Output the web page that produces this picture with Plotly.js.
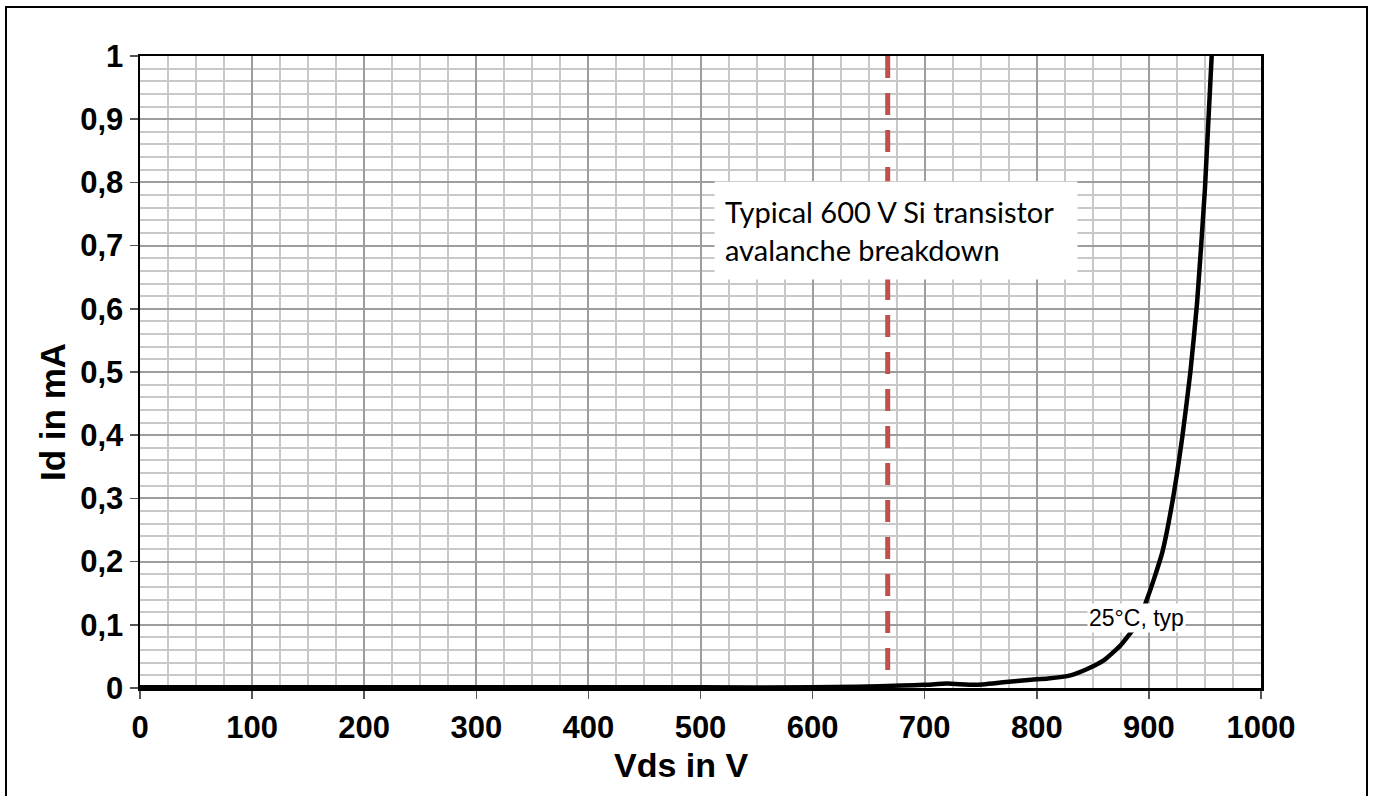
<!DOCTYPE html>
<html>
<head>
<meta charset="utf-8">
<script src="https://cdn.plot.ly/plotly-3.0.1.min.js"></script>
<style>
  html, body { margin: 0; padding: 0; background: #fff; }
  #chart { width: 1373px; height: 796px; position: absolute; left: 0; top: 0; }
  #frame { position: absolute; left: 5px; top: 6px; width: 1363px; height: 800px;
           border: 2px solid #000; box-sizing: border-box; pointer-events: none; }
</style>
</head>
<body>
<div id="chart"></div>
<div id="frame"></div>
<script>
// Drain current vs. drain-source voltage (25°C, typ)
const vdsVolts = [0, 100, 200, 300, 400, 500, 600, 640, 680, 700, 720, 745, 770, 795, 810, 830, 845, 860, 875, 890, 898, 905, 912, 921, 930, 937, 943, 950, 956];
const idMilliamps = [0.001, 0.001, 0.001, 0.001, 0.001, 0.001, 0.001, 0.002, 0.004, 0.005, 0.007, 0.005, 0.009, 0.013, 0.015, 0.020, 0.030, 0.044, 0.068, 0.103, 0.139, 0.175, 0.215, 0.295, 0.400, 0.500, 0.610, 0.790, 1.000];
const breakdownVoltage = 667;   // typical 600 V Si transistor avalanche breakdown
const xRange = [0, 1000];
const yRange = [0, 1];

const boldFont = { family: 'Liberation Sans, Arial, sans-serif', size: 31, color: '#000', weight: 'bold' };

const trace = {
  x: vdsVolts,
  y: idMilliamps,
  type: 'scatter',
  mode: 'lines',
  line: { color: '#000', width: 4.5, shape: 'spline', smoothing: 0.5 },
  hoverinfo: 'skip',
  showlegend: false
};

const axisCommon = {
  showline: true, linecolor: '#000', linewidth: 2.5, mirror: true,
  ticks: 'outside', ticklen: 8, tickwidth: 1.5, tickcolor: '#555',
  showgrid: true, gridcolor: '#9d9d9d', gridwidth: 2,
  zeroline: false, fixedrange: true,
  tickfont: boldFont
};

const layout = {
  width: 1373, height: 796,
  margin: { l: 140, r: 112, t: 56, b: 108 },
  paper_bgcolor: '#fff', plot_bgcolor: '#fff',
  separators: ',.',
  xaxis: Object.assign({}, axisCommon, {
    range: xRange, tick0: 0, dtick: 100, ticklabelstandoff: 2,
    minor: { dtick: 25, showgrid: true, gridcolor: '#c8c8c8', gridwidth: 2, ticks: '' }
  }),
  yaxis: Object.assign({}, axisCommon, {
    range: yRange, tick0: 0, dtick: 0.1, ticklabelstandoff: 0,
    minor: { dtick: 0.02, showgrid: true, gridcolor: '#c8c8c8', gridwidth: 2, ticks: '' }
  }),
  shapes: [{
    type: 'line', xref: 'x', yref: 'y',
    x0: breakdownVoltage, x1: breakdownVoltage, y0: yRange[1], y1: yRange[0],
    line: { color: '#c0504d', width: 5, dash: '22px,15px' },
    layer: 'between'
  }],
  annotations: [
    {
      text: 'Typical 600 V Si transistor<br>avalanche breakdown',
      xref: 'x', yref: 'y', x: 674.5, y: 0.724,
      xanchor: 'center', yanchor: 'middle', showarrow: false,
      align: 'left', width: 342, height: 77, borderpad: 10,
      bgcolor: '#fff',
      font: { family: 'Lato, Open Sans, sans-serif', size: 29, color: '#000' }
    },
    {
      text: '25°C, typ',
      xref: 'x', yref: 'y', x: 888.5, y: 0.111,
      xanchor: 'center', yanchor: 'middle', showarrow: false,
      bgcolor: '#fff', borderpad: 1,
      font: { family: 'Liberation Sans, Arial, sans-serif', size: 23, color: '#000' }
    },
    {
      text: 'Vds in V',
      xref: 'paper', yref: 'paper', x: 0.4826, y: -0.1218,
      xanchor: 'center', yanchor: 'middle', showarrow: false,
      font: Object.assign({}, boldFont, { size: 34 })
    },
    {
      text: 'Id in mA',
      xref: 'paper', yref: 'paper', x: -0.0785, y: 0.4367,
      xanchor: 'center', yanchor: 'middle', showarrow: false, textangle: -90,
      font: Object.assign({}, boldFont, { size: 35 })
    }
  ]
};

Plotly.newPlot('chart', [trace], layout, { staticPlot: true, displayModeBar: false });
</script>
</body>
</html>
